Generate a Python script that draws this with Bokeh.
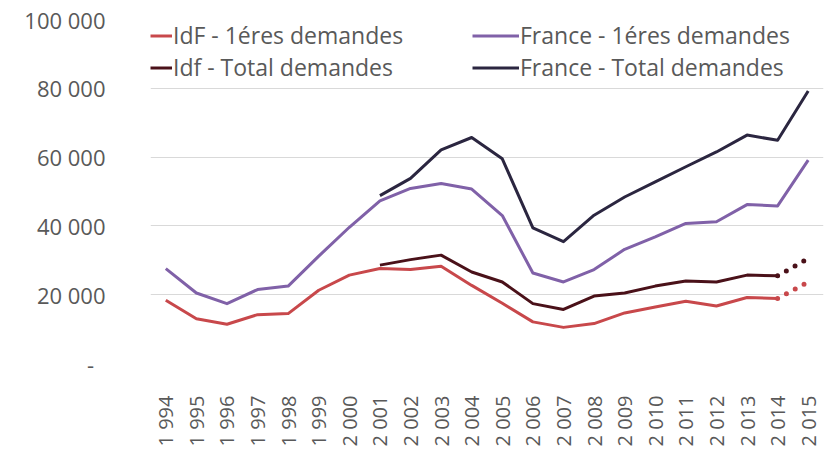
import math
from bokeh.plotting import figure
from bokeh.models import (FactorRange, Range1d, FixedTicker, Legend, LegendItem,
                          ColumnDataSource)
from bokeh.embed import file_html
from bokeh.resources import INLINE

nan = float("nan")

years = ["1 994", "1 995", "1 996", "1 997", "1 998", "1 999", "2 000", "2 001",
         "2 002", "2 003", "2 004", "2 005", "2 006", "2 007", "2 008", "2 009",
         "2 010", "2 011", "2 012", "2 013", "2 014", "2 015"]

# IdF - 1ères demandes (1994-2014 solid, 2014-2015 dotted)
idf_first = [18400, 13000, 11400, 14200, 14500, 21300, 25700, 27600, 27300, 28300,
             22700, 17500, 12100, 10500, 11600, 14700, 16400, 18100, 16700, 19200,
             18900, 23700]
# Idf - Total demandes
idf_total = [nan, nan, nan, nan, nan, nan, nan, 28600, 30200, 31500,
             26600, 23700, 17400, 15700, 19600, 20500, 22500, 24000, 23700, 25700,
             25500, 30500]
# France - 1ères demandes
fr_first = [27600, 20500, 17400, 21500, 22500, 31200, 39600, 47300, 50900, 52300,
            50700, 43000, 26300, 23700, 27300, 33200, 36800, 40700, 41200, 46200,
            45800, 59100]
# France - Total demandes
fr_total = [nan, nan, nan, nan, nan, nan, nan, 48800, 53800, 62100,
            65700, 59500, 39400, 35400, 43100, 48400, 52800, 57200, 61500, 66400,
            64900, 79200]

y_ticks = [0, 20000, 40000, 60000, 80000, 100000]
y_labels = ["-\u00a0\u00a0", "20 000", "40 000", "60 000", "80 000", "100 000"]

C_IDF1 = "#C8484B"
C_IDFT = "#4A1119"
C_FR1 = "#8061A8"
C_FRT = "#2B2640"
FONT = "Open Sans"
TXT = "#595959"

W, H = 825, 449
LEFT, RIGHT, TOP, BOTTOM = 150, 2, 19, 86
FRAME_H = H - TOP - BOTTOM

p = figure(width=W, height=H, x_range=FactorRange(*years),
           y_range=Range1d(0, 100000), output_backend="svg",
           toolbar_location=None, min_border_left=LEFT, min_border_right=RIGHT,
           min_border_top=TOP, min_border_bottom=BOTTOM)
p.outline_line_color = None
p.background_fill_color = "white"
p.border_fill_color = "white"

p.xgrid.grid_line_color = None
p.ygrid.ticker = FixedTicker(ticks=y_ticks)
p.ygrid.grid_line_color = "#D9D9D9"
p.ygrid.grid_line_width = 1

p.yaxis.ticker = FixedTicker(ticks=y_ticks)
p.yaxis.major_label_overrides = {t: l for t, l in zip(y_ticks, y_labels)}
p.yaxis.axis_line_color = None
p.yaxis.major_tick_line_color = None
p.yaxis.minor_tick_line_color = None
p.yaxis.major_tick_out = 0
p.yaxis.major_tick_in = 0
p.yaxis.minor_tick_out = 0
p.yaxis.major_label_standoff = 45
p.yaxis.major_label_text_font = FONT
p.yaxis.major_label_text_font_size = "22px"
p.yaxis.major_label_text_color = TXT

p.xaxis.axis_line_color = None
p.xaxis.major_tick_line_color = None
p.xaxis.minor_tick_line_color = None
p.xaxis.major_tick_out = 0
p.xaxis.major_tick_in = 0
p.xaxis.minor_tick_out = 0
p.xaxis.major_label_orientation = math.pi / 2
p.xaxis.major_label_standoff = 32
p.xaxis.major_label_text_font = FONT
p.xaxis.major_label_text_font_size = "20px"
p.xaxis.major_label_text_color = TXT

n = len(years)
src = ColumnDataSource(dict(x=years[:n - 1], idf1=idf_first[:n - 1], idft=idf_total[:n - 1]))
src_dot = ColumnDataSource(dict(x=years[n - 2:], idf1=idf_first[n - 2:], idft=idf_total[n - 2:]))
src_fr = ColumnDataSource(dict(x=years, fr1=fr_first, frt=fr_total))

lw = 3
r_fr1 = p.line("x", "fr1", source=src_fr, line_color=C_FR1, line_width=lw, line_join="round")
r_frt = p.line("x", "frt", source=src_fr, line_color=C_FRT, line_width=lw, line_join="round")
r_idf1 = p.line("x", "idf1", source=src, line_color=C_IDF1, line_width=lw, line_join="round")
r_idft = p.line("x", "idft", source=src, line_color=C_IDFT, line_width=lw, line_join="round")
p.line("x", "idf1", source=src_dot, line_color=C_IDF1, line_width=5, line_cap="round",
       line_dash="0 10", line_dash_offset=-10)
p.line("x", "idft", source=src_dot, line_color=C_IDFT, line_width=5, line_cap="round",
       line_dash="0 10", line_dash_offset=-10)

ROW_H, ROW_GAP = 31, 0
LEG_H = 2 * ROW_H + ROW_GAP
LEG_TOP_GAP = 2


def make_legend(items, x, gw):
    lg = Legend(items=items, location=(x, FRAME_H - LEG_H - LEG_TOP_GAP),
                orientation="vertical",
                label_text_font=FONT, label_text_font_size="23px",
                label_text_color=TXT, glyph_width=gw, glyph_height=ROW_H,
                label_height=ROW_H, label_standoff=1, spacing=ROW_GAP, padding=0,
                margin=0, border_line_color=None, background_fill_alpha=0)
    return lg


leg1 = make_legend([LegendItem(label="IdF - 1éres demandes", renderers=[r_idf1]),
                    LegendItem(label="Idf - Total demandes", renderers=[r_idft])], 0, 22)
leg2 = make_legend([LegendItem(label="France - 1éres demandes", renderers=[r_fr1]),
                    LegendItem(label="France - Total demandes", renderers=[r_frt])], 322, 47)
p.add_layout(leg1, "center")
p.add_layout(leg2, "center")

open("out.html", "w").write(file_html(p, INLINE))
